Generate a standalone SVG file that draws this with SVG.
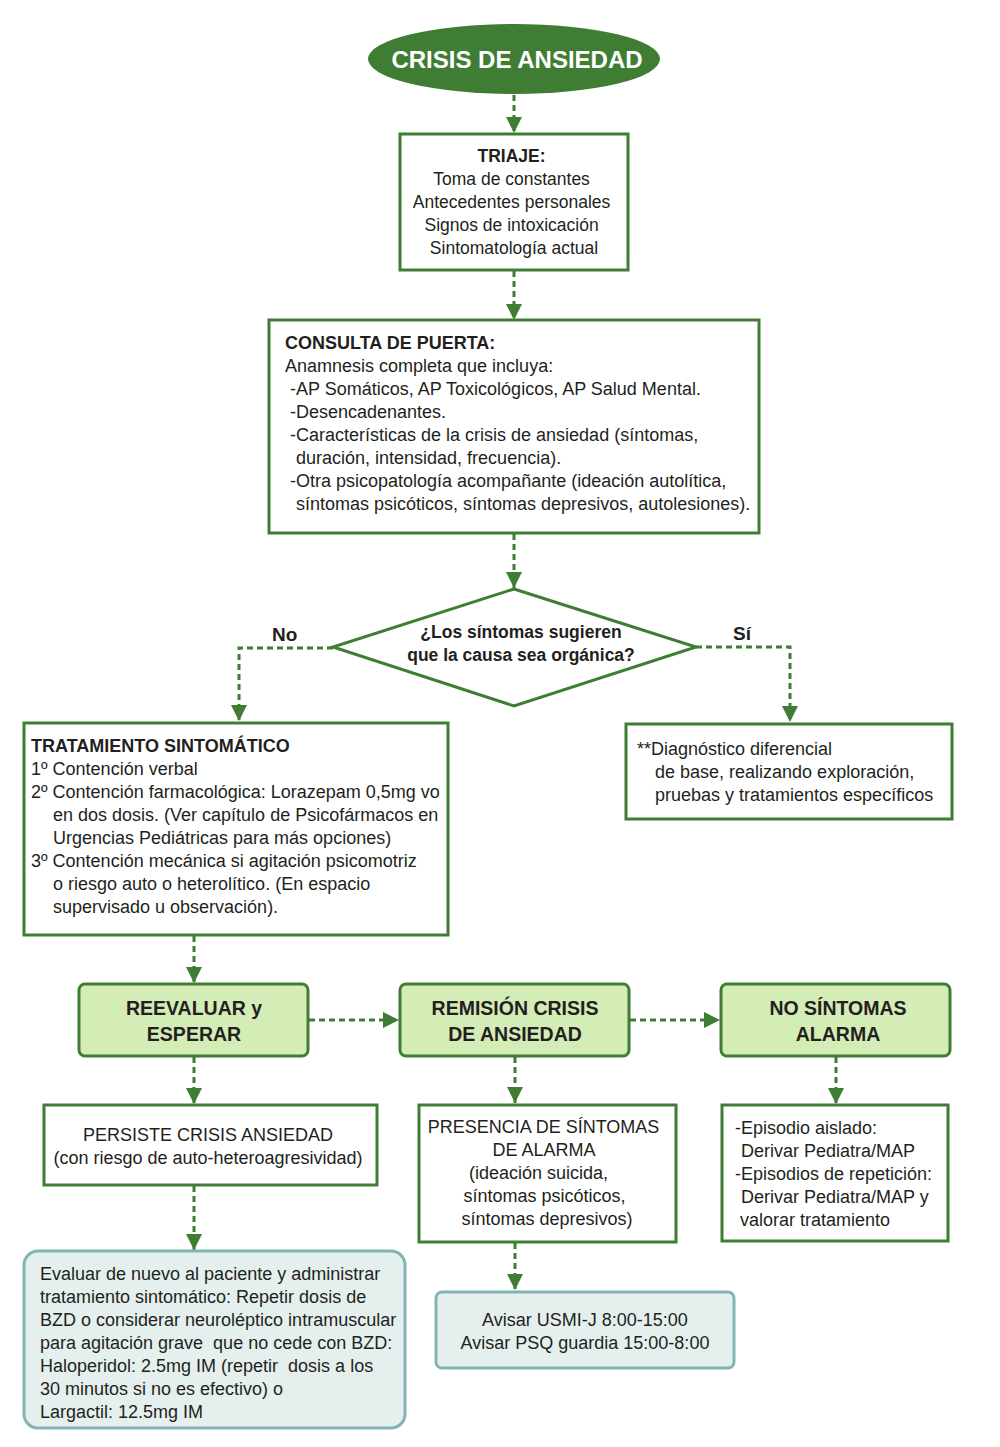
<svg xmlns="http://www.w3.org/2000/svg" width="1000" height="1447" viewBox="0 0 1000 1447">
<defs>
<marker id="ah" markerUnits="userSpaceOnUse" markerWidth="18" markerHeight="16" refX="16" refY="8" orient="auto">
<path d="M0,0 L16,8 L0,16 Z" fill="#3f7d34"/>
</marker>
<style>
.t{font-family:"Liberation Sans",Arial,sans-serif;font-size:18px;fill:#231f20}
.b{font-weight:bold}
.c{text-anchor:middle}
.box{fill:#fff;stroke:#3f7d34;stroke-width:3}
.gbox{fill:#d4ecb6;stroke:#3f7d34;stroke-width:3}
.bbox{fill:#e5f0ee;stroke:#80b5b2;stroke-width:3}
.con{fill:none;stroke:#3f7d34;stroke-width:3;stroke-dasharray:6 4;marker-end:url(#ah)}
</style>
</defs>
<rect width="1000" height="1447" fill="#fff"/>

<g id="connectors">
<path class="con" d="M514,95 V133"/>
<path class="con" d="M514,271 V320"/>
<path class="con" d="M514,534 V588"/>
<path class="con" d="M333,648 H239 V721"/>
<path class="con" d="M696,647 H790 V722"/>
<path class="con" d="M194,936 V983"/>
<path class="con" d="M309,1020 H399"/>
<path class="con" d="M630,1020 H720"/>
<path class="con" d="M194,1057 V1104"/>
<path class="con" d="M515,1057 V1103"/>
<path class="con" d="M836,1057 V1104"/>
<path class="con" d="M194,1186 V1250"/>
<path class="con" d="M515,1243 V1290"/>
</g>

<g id="crisis">
<ellipse cx="514" cy="59" rx="146" ry="35" fill="#3f7d34"/>
<text class="t b c" x="517" y="68" style="font-size:24px;fill:#fff">CRISIS DE ANSIEDAD</text>
</g>

<g id="triaje">
<rect class="box" x="400" y="134" width="228" height="136"/>
<text class="t c" x="514" y="162" style="font-size:17.5px"><tspan class="b">TRIAJE:</tspan>
<tspan x="514" dy="23">Toma de constantes</tspan>
<tspan x="514" dy="23">Antecedentes personales</tspan>
<tspan x="514" dy="23">Signos de intoxicación</tspan>
<tspan x="514" dy="23">Sintomatología actual</tspan></text>
</g>

<g id="consulta">
<rect class="box" x="269" y="320" width="490" height="213"/>
<text class="t" x="285" y="349"><tspan class="b">CONSULTA DE PUERTA:</tspan>
<tspan x="285" dy="23">Anamnesis completa que incluya:</tspan>
<tspan x="290" dy="23">-AP Somáticos, AP Toxicológicos, AP Salud Mental.</tspan>
<tspan x="290" dy="23">-Desencadenantes.</tspan>
<tspan x="290" dy="23">-Características de la crisis de ansiedad (síntomas,</tspan>
<tspan x="296" dy="23">duración, intensidad, frecuencia).</tspan>
<tspan x="290" dy="23">-Otra psicopatología acompañante (ideación autolítica,</tspan>
<tspan x="296" dy="23">síntomas psicóticos, síntomas depresivos, autolesiones).</tspan></text>
</g>

<g id="decision">
<polygon class="box" points="514,589 696,647 514,706 333,647"/>
<text class="t b c" x="521" y="638" style="font-size:17.5px">¿Los síntomas sugieren</text>
<text class="t b c" x="521" y="661" style="font-size:17.5px">que la causa sea orgánica?</text>
<text class="t b" x="272" y="641" style="font-size:19px">No</text>
<text class="t b" x="733" y="640" style="font-size:19px">Sí</text>
</g>

<g id="tratamiento">
<rect class="box" x="24" y="723" width="424" height="212"/>
<text class="t" x="31" y="752"><tspan class="b">TRATAMIENTO SINTOMÁTICO</tspan>
<tspan x="31" dy="23">1º Contención verbal</tspan>
<tspan x="31" dy="23">2º Contención farmacológica: Lorazepam 0,5mg vo</tspan>
<tspan x="53" dy="23">en dos dosis. (Ver capítulo de Psicofármacos en</tspan>
<tspan x="53" dy="23">Urgencias Pediátricas para más opciones)</tspan>
<tspan x="31" dy="23">3º Contención mecánica si agitación psicomotriz</tspan>
<tspan x="53" dy="23">o riesgo auto o heterolítico. (En espacio</tspan>
<tspan x="53" dy="23">supervisado u observación).</tspan></text>
</g>

<g id="diagnostico">
<rect class="box" x="626" y="724" width="326" height="95"/>
<text class="t" x="637" y="755">**Diagnóstico diferencial
<tspan x="655" dy="23">de base, realizando exploración,</tspan>
<tspan x="655" dy="23">pruebas y tratamientos específicos</tspan></text>
</g>

<g id="reevaluar">
<rect class="gbox" x="79" y="984" width="229" height="72" rx="6"/>
<text class="t b c" x="194" y="1015" style="font-size:19.5px">REEVALUAR y</text>
<text class="t b c" x="194" y="1041" style="font-size:19.5px">ESPERAR</text>
</g>

<g id="remision">
<rect class="gbox" x="400" y="984" width="229" height="72" rx="6"/>
<text class="t b c" x="515" y="1015" style="font-size:19.5px">REMISIÓN CRISIS</text>
<text class="t b c" x="515" y="1041" style="font-size:19.5px">DE ANSIEDAD</text>
</g>

<g id="nosintomas">
<rect class="gbox" x="721" y="984" width="229" height="72" rx="6"/>
<text class="t b c" x="838" y="1015" style="font-size:19.5px">NO SÍNTOMAS</text>
<text class="t b c" x="838" y="1041" style="font-size:19.5px">ALARMA</text>
</g>

<g id="persiste">
<rect class="box" x="44" y="1105" width="333" height="80"/>
<text class="t c" x="208" y="1141">PERSISTE CRISIS ANSIEDAD</text>
<text class="t c" x="208" y="1164">(con riesgo de auto-heteroagresividad)</text>
</g>

<g id="presencia">
<rect class="box" x="419" y="1105" width="257" height="137"/>
<text class="t c" x="546" y="1133">PRESENCIA DE SÍNTOMAS
<tspan x="546" dy="23">DE ALARMA</tspan>
<tspan x="541" dy="23">(ideación suicida,</tspan>
<tspan x="547" dy="23">síntomas psicóticos,</tspan>
<tspan x="547" dy="23">síntomas depresivos)</tspan></text>
</g>

<g id="episodio">
<rect class="box" x="722" y="1105" width="226" height="136"/>
<text class="t" x="735" y="1134">-Episodio aislado:
<tspan x="741" dy="23">Derivar Pediatra/MAP</tspan>
<tspan x="735" dy="23">-Episodios de repetición:</tspan>
<tspan x="741" dy="23">Derivar Pediatra/MAP y</tspan>
<tspan x="740" dy="23">valorar tratamiento</tspan></text>
</g>

<g id="evaluar">
<rect class="bbox" x="24" y="1251" width="381" height="177" rx="14"/>
<text class="t" x="40" y="1280">Evaluar de nuevo al paciente y administrar
<tspan x="40" dy="23">tratamiento sintomático: Repetir dosis de</tspan>
<tspan x="40" dy="23">BZD o considerar neuroléptico intramuscular</tspan>
<tspan x="40" dy="23">para agitación grave&#160; que no cede con BZD:</tspan>
<tspan x="40" dy="23">Haloperidol: 2.5mg IM (repetir&#160; dosis a los</tspan>
<tspan x="40" dy="23">30 minutos si no es efectivo) o</tspan>
<tspan x="40" dy="23">Largactil: 12.5mg IM</tspan></text>
</g>

<g id="avisar">
<rect class="bbox" x="436" y="1292" width="298" height="76" rx="6"/>
<text class="t c" x="585" y="1326">Avisar USMI-J 8:00-15:00</text>
<text class="t c" x="585" y="1349">Avisar PSQ guardia 15:00-8:00</text>
</g>
</svg>
